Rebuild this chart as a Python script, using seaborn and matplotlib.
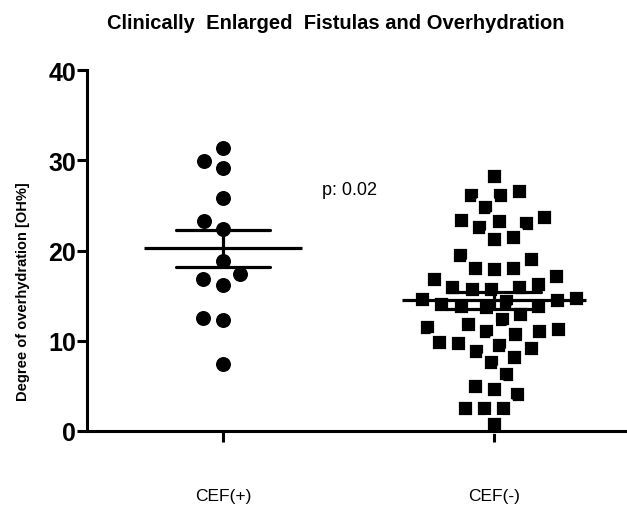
import pandas as pd
import matplotlib
matplotlib.use("Agg")
import matplotlib.pyplot as plt
import seaborn as sns

# values (OH%)
groups = ["CEF(+)", "CEF(-)"]
cef_pos = [31.4, 29.9, 29.1, 25.8, 23.3, 22.4, 18.8, 17.4, 16.8, 16.2, 12.5, 12.3, 7.4]
cef_neg = [28.3, 26.6, 26.2, 26.1, 24.8, 23.7, 23.4, 23.3, 23.1, 22.6, 21.5, 21.3,
           19.5, 19.1, 18.1, 18.1, 17.9, 17.2, 16.8, 16.3, 16.0, 16.0, 15.7, 15.7,
           14.7, 14.6, 14.5, 14.4, 14.1, 13.9, 13.8, 13.7, 13.0, 12.4, 11.9, 11.5,
           11.3, 11.1, 11.1, 10.7, 9.9, 9.8, 9.5, 9.2, 8.9, 8.2, 7.6, 6.3, 5.0,
           4.7, 4.1, 2.6, 2.6, 2.6, 0.8]
y_ticks = [0, 10, 20, 30, 40]

df = pd.DataFrame({
    "group": [groups[0]] * len(cef_pos) + [groups[1]] * len(cef_neg),
    "value": cef_pos + cef_neg,
})

sns.set_style("ticks")
plt.rcParams["font.family"] = ["Liberation Sans", "DejaVu Sans"]
for key in ["text.color", "axes.labelcolor", "xtick.color", "ytick.color", "axes.edgecolor"]:
    plt.rcParams[key] = "black"

fig = plt.figure(figsize=(6.27, 5.06), dpi=100)
ax = fig.add_axes([87 / 627, 74 / 506, 540 / 627, 361 / 506])

# scatter dots, circles for CEF(+) and squares for CEF(-)
# (thin white edge keeps small gaps between neighbouring markers)
sns.swarmplot(data=df[df["group"] == groups[0]], x="group", y="value", order=groups,
              marker="o", size=12.4, color="black", edgecolor="white", linewidth=1.6,
              ax=ax, clip_on=False)
sns.swarmplot(data=df[df["group"] == groups[1]], x="group", y="value", order=groups,
              marker="s", size=11.4, color="black", edgecolor="white", linewidth=2.0,
              ax=ax, clip_on=False)

# mean +/- SEM
sns.pointplot(data=df, x="group", y="value", order=groups, errorbar="se",
              capsize=0.35, color="black", linestyle="none", markersize=0,
              err_kws={"linewidth": 2.3, "zorder": 6}, ax=ax)
means = df.groupby("group")["value"].mean()
half_w = [0.29, 0.34]
for i, g in enumerate(groups):
    ax.hlines(means[g], i - half_w[i], i + half_w[i], color="black", lw=2.3, zorder=6)

ax.set_xlim(-0.502, 1.491)
ax.set_ylim(0, 40)
ax.set_yticks(y_ticks)
ax.set_yticklabels([str(t) for t in y_ticks], fontsize=18, fontweight="bold")
ax.set_xticks(range(len(groups)))
ax.set_xticklabels(groups, fontsize=12.5)
ax.set_xlabel("")
ax.set_ylabel("Degree of overhydration [OH%]", fontsize=10.5, fontweight="bold")
ax.yaxis.set_label_coords(-0.106, 0.388)

sns.despine(ax=ax)
for side in ["left", "bottom"]:
    ax.spines[side].set_linewidth(2.2)
    ax.spines[side].set_zorder(10)
ax.tick_params(axis="y", length=7, width=2.2, pad=1)
ax.tick_params(axis="x", length=8, width=2.2, pad=33)

ax.text(0.365, 26.8, "p: 0.02", fontsize=13, ha="left", va="center")
fig.text(0.536, 0.953, "Clinically  Enlarged  Fistulas and Overhydration",
         fontsize=14.5, fontweight="bold", ha="center", va="center")

fig.savefig("out.png", dpi=100)
